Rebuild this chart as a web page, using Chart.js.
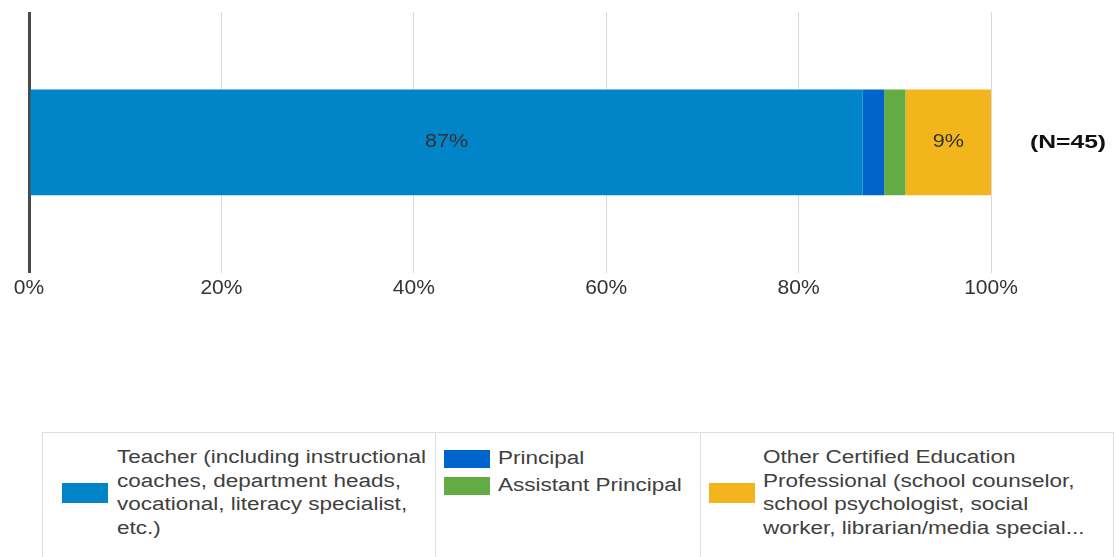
<!DOCTYPE html>
<html>
<head>
<meta charset="utf-8">
<title>Respondent role</title>
<script src="https://cdn.jsdelivr.net/npm/chart.js@4.4.1/dist/chart.umd.min.js"></script>
<style type="text/css">
	body { margin: 0; background: #fff; font-family: "Liberation Sans", Arial, sans-serif; color: #404040; }
	#chartBox { position: absolute; left: 0; top: 0; width: 1114px; height: 304px; }
	#legendBox { position: absolute; left: 42px; top: 432px; width: 1070px; height: 140px; border: 1px solid #dedede; display: flex; }
	.cell { border-right: 1px solid #dedede; position: relative; box-sizing: border-box; }
	.item { position: absolute; display: flex; align-items: center; }
	.sw { width: 46px; height: 20px; flex: none; }
	.txt { font-size: 18px; line-height: 23.5px; white-space: nowrap; margin-left: 9px; transform: scaleX(1.25); transform-origin: left center; }
</style>
</head>
<body>

	<div id="chartBox"><canvas id="roleChart"></canvas></div>

	<div id="legendBox">
		<div class="cell" style="width: 393px;">
			<div class="item" style="left: 19px; top: 13px;">
				<div class="sw" id="sw0"></div>
				<div class="txt">Teacher (including instructional<br>coaches, department heads,<br>vocational, literacy specialist,<br>etc.)</div>
			</div>
		</div>
		<div class="cell" style="width: 265px;">
			<div class="item" style="left: 8px; top: 14px;">
				<div class="sw" id="sw1" style="height: 18px;"></div>
				<div class="txt" style="margin-left: 8px;">Principal</div>
			</div>
			<div class="item" style="left: 8px; top: 41px;">
				<div class="sw" id="sw2" style="height: 18px;"></div>
				<div class="txt" style="margin-left: 8px;">Assistant Principal</div>
			</div>
		</div>
		<div class="cell" style="width: 412px; border-right: none;">
			<div class="item" style="left: 8px; top: 13px;">
				<div class="sw" id="sw3"></div>
				<div class="txt" style="margin-left: 8px;">Other Certified Education<br>Professional (school counselor,<br>school psychologist, social<br>worker, librarian/media special...</div>
			</div>
		</div>
	</div>

	<script type="text/javascript">

	var categories = ['All respondents'];
	var roleNames = [
		'Teacher (including instructional coaches, department heads, vocational, literacy specialist, etc.)',
		'Principal',
		'Assistant Principal',
		'Other Certified Education Professional (school counselor, school psychologist, social worker, librarian/media special...'
	];
	// 39, 1, 1 and 4 of 45 respondents
	var rolePercents = [86.67, 2.22, 2.22, 8.89];
	var roleColors = ['#0184c8', '#0064cd', '#63ab44', '#f2b51c'];
	var tickValues = [0, 20, 40, 60, 80, 100];
	var totalLabel = '(N=45)';

	for (var i = 0; i < roleColors.length; i++) {
		document.getElementById('sw' + i).style.backgroundColor = roleColors[i];
	}

	var datasets = [];
	for (var i = 0; i < roleNames.length; i++) {
		datasets.push({
			label: roleNames[i],
			data: [rolePercents[i]],
			backgroundColor: roleColors[i],
			borderWidth: 0,
			categoryPercentage: 1,
			barPercentage: 0.405
		});
	}

	// the reference text is a bit stretched sideways, so squeeze it back in with scale
	function wideText(ctx, text, x, y, sx) {
		ctx.save();
		ctx.translate(x, y);
		ctx.scale(sx, 1);
		ctx.fillText(text, 0, 0);
		ctx.restore();
	}

	// percent labels inside the bigger segments, plus the N count on the right
	var barLabels = {
		id: 'barLabels',
		afterDatasetsDraw: function(chart) {
			var ctx = chart.ctx;
			ctx.save();
			ctx.textAlign = 'center';
			ctx.textBaseline = 'middle';
			ctx.fillStyle = '#333';
			ctx.font = '18px "Liberation Sans", Arial, sans-serif';
			var midY = 0;
			chart.data.datasets.forEach(function(ds, i) {
				var bar = chart.getDatasetMeta(i).data[0];
				midY = bar.y;
				if (ds.data[0] >= 5) {
					wideText(ctx, Math.round(ds.data[0]) + '%', (bar.x + bar.base) / 2, bar.y, 1.2);
				}
			});
			ctx.fillStyle = '#111';
			ctx.font = 'bold 19px "Liberation Sans", Arial, sans-serif';
			wideText(ctx, totalLabel, chart.chartArea.right + 77, midY, 1.3);
			ctx.restore();
		}
	};

	new Chart(document.getElementById('roleChart'), {
		type: 'bar',
		data: { labels: categories, datasets: datasets },
		plugins: [barLabels],
		options: {
			indexAxis: 'y',
			responsive: true,
			maintainAspectRatio: false,
			animation: false,
			layout: { padding: { left: 29, right: 123, top: 12, bottom: 0 } },
			plugins: {
				legend: { display: false },
				tooltip: { enabled: false }
			},
			scales: {
				x: {
					stacked: true,
					min: 0,
					max: 100,
					afterBuildTicks: function(axis) {
						axis.ticks = tickValues.map(function(v) { return { value: v }; });
					},
					border: { display: false },
					grid: {
						drawTicks: false,
						color: function(c) { return c.tick && c.tick.value === 0 ? '#4a4a4a' : '#d9d9d9'; },
						lineWidth: function(c) { return c.tick && c.tick.value === 0 ? 3 : 1; }
					},
					ticks: {
						padding: 3,
						color: '#333',
						font: { family: '"Liberation Sans", Arial, sans-serif', size: 21 },
						callback: function(v) { return v + '%'; }
					}
				},
				y: {
					stacked: true,
					display: false
				}
			}
		}
	});

	</script>

</body>
</html>
